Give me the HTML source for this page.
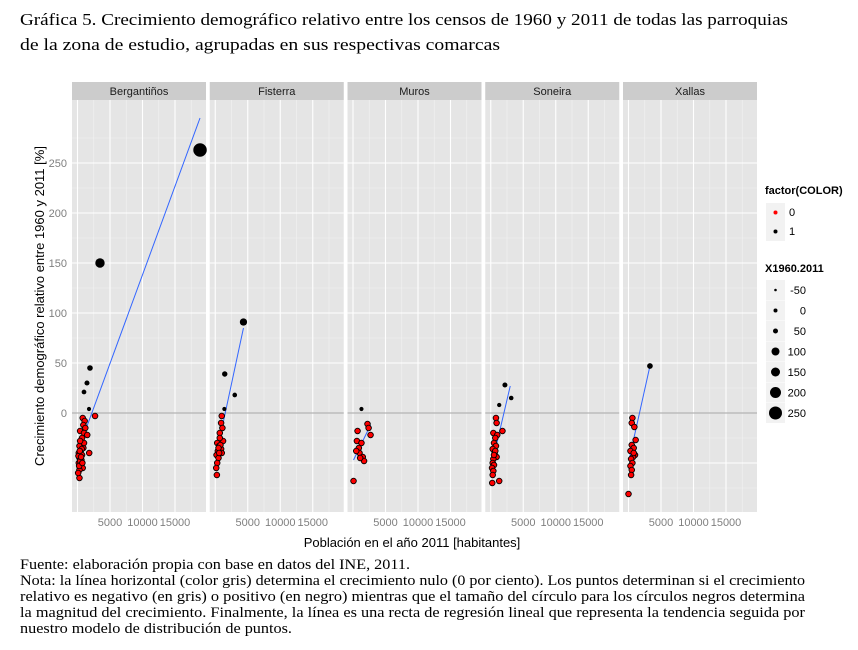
<!DOCTYPE html>
<html><head><meta charset="utf-8">
<style>
body{margin:0;background:#fff;width:858px;height:650px;overflow:hidden}
svg{display:block}
.t{font-family:"Liberation Serif",serif;fill:#000}
.s{font-family:"Liberation Sans",sans-serif}
</style></head><body>
<svg id="c" width="858" height="650">
<text class="t" x="20" y="25" font-size="17" textLength="768" lengthAdjust="spacingAndGlyphs">Gráfica 5. Crecimiento demográfico relativo entre los censos de 1960 y 2011 de todas las parroquias</text>
<text class="t" x="20" y="50" font-size="17" textLength="480" lengthAdjust="spacingAndGlyphs">de la zona de estudio, agrupadas en sus respectivas comarcas</text>
<g id="panels"></g>
<text class="s" x="412" y="547" font-size="13" fill="#000" text-anchor="middle">Población en el año 2011 [habitantes]</text>
<text class="s" transform="translate(44,306) rotate(-90)" font-size="13" fill="#000" text-anchor="middle">Crecimiento demográfico relativo entre 1960 y 2011 [%]</text>
<g id="legend" class="s" font-size="11"></g>
<g class="t" font-size="15" lengthAdjust="spacingAndGlyphs">
<text x="20" y="569" textLength="390" lengthAdjust="spacingAndGlyphs">Fuente: elaboración propia con base en datos del INE, 2011.</text>
<text x="20" y="585" textLength="785" lengthAdjust="spacingAndGlyphs">Nota: la línea horizontal (color gris) determina el crecimiento nulo (0 por ciento). Los puntos determinan si el crecimiento</text>
<text x="20" y="601" textLength="785" lengthAdjust="spacingAndGlyphs">relativo es negativo (en gris) o positivo (en negro) mientras que el tamaño del círculo para los círculos negros determina</text>
<text x="20" y="617" textLength="785" lengthAdjust="spacingAndGlyphs">la magnitud del crecimiento. Finalmente, la línea es una recta de regresión lineal que representa la tendencia seguida por</text>
<text x="20" y="633" textLength="272" lengthAdjust="spacingAndGlyphs">nuestro modelo de distribución de puntos.</text>
</g>
</svg>
<script>
const panelNames=["Bergantiños","Fisterra","Muros","Soneira","Xallas"];
const yTicks=[0,50,100,150,200,250];
const xTicks=[5000,10000,15000];
const sizeLegend=[-50,0,50,100,150,200,250];
// points per panel: [population, growth%]
const pts=[
 [[18850,263],[3460,150],[1920,45],[1460,30],[1000,21],[1770,4],[2700,-3],[300,-65],
  [800,-5],[1100,-8],[900,-12],[1200,-15],[400,-18],[1000,-20],[1500,-22],[700,-25],[600,-30],[300,-33],[900,-35],[500,-38],
  [200,-40],[700,-42],[1800,-40],[300,-45],[600,-47],[200,-50],[500,-52],[800,-55],[300,-57],[100,-60],[400,-48],[1000,-30],[150,-43],[650,-36],
  [400,-28],[250,-53],[550,-44],[750,-50],[350,-38]],
 [[4340,91],[1460,39],[3000,18],[1400,4],[1000,-3],[900,-10],[1100,-15],[700,-20],[1200,-28],[300,-30],[600,-33],[900,-36],
  [400,-38],[1000,-40],[200,-42],[500,-45],[300,-50],[150,-55],[250,-62],[700,-25],[800,-32],[500,-35],[600,-40]],
 [[1300,4],[80,-68],[2230,-11],[2400,-15],[2700,-22],[700,-18],[600,-28],[1300,-30],[900,-35],[1000,-40],[1500,-44],[1700,-48],[500,-38],[1100,-45]],
 [[2180,28],[3150,15],[1300,8],[230,-70],[1300,-68],[800,-5],[900,-10],[1800,-18],[400,-20],[1000,-22],[700,-25],[500,-30],[800,-33],
  [300,-36],[600,-40],[900,-44],[400,-46],[300,-50],[500,-52],[200,-55],[400,-58],[300,-62],[700,-38],[500,-42]],
 [[3300,47],[0,-81],[600,-5],[500,-10],[900,-14],[1100,-27],[500,-32],[800,-35],[300,-38],[1000,-42],[700,-44],[400,-46],[600,-50],[300,-53],[500,-57],[400,-62],[800,-40]]
];
// regression endpoints
const regX0=[850,580,80,330,80];
const regY0=[-24,-29,-47,-47,-47];
const regX1=[18850,4340,2700,3000,3300];
const regY1=[295,85,-12,27,47];

const NS="http://www.w3.org/2000/svg";
function el(t,a,p){const e=document.createElementNS(NS,t);for(const k in a)e.setAttribute(k,a[k]);p.appendChild(e);return e;}
const P0=72,PW=134,STEP=137.75,TOP=100,BOT=512;
function ys(v){return 413-v;}
function xs(i,v){return P0+i*STEP+5.5+v/5000*32.5;}
function rad(v){return Math.max(1.3,2+v*0.018);}
const G=document.getElementById('panels');
panelNames.forEach((nm,i)=>{
 const L=P0+i*STEP;
 const g=el('g',{},G);
 
 
 const st=el('rect',{x:L,y:82,width:PW,height:18,fill:'#cccccc'},g);
 
 
 const tx=el('text',{x:L+PW/2,y:95,'font-size':11,'text-anchor':'middle','font-family':'Liberation Sans,sans-serif',fill:'#1a1a1a'},g);
 tx.textContent=nm;
 
 
 el('rect',{x:L,y:TOP,width:PW,height:BOT-TOP,fill:'#e5e5e5'},g);
 for(let v=-75;v<=275;v+=50) el('line',{x1:L,x2:L+PW,y1:ys(v),y2:ys(v),stroke:'#f2f2f2','stroke-width':0.6},g);
 for(let v=2500;v<=17500;v+=5000) el('line',{x1:xs(i,v),x2:xs(i,v),y1:TOP,y2:BOT,stroke:'#f2f2f2','stroke-width':0.6},g);
 [-50,...yTicks].forEach(v=>el('line',{x1:L,x2:L+PW,y1:ys(v),y2:ys(v),stroke:'#fff','stroke-width':1.1},g));
 [0,...xTicks].forEach(v=>el('line',{x1:xs(i,v),x2:xs(i,v),y1:TOP,y2:BOT,stroke:'#fff','stroke-width':1.1},g));
 el('line',{x1:L,x2:L+PW,y1:ys(0),y2:ys(0),stroke:'#b3b3b3','stroke-width':1.3},g);
 xTicks.forEach(v=>{const t=el('text',{x:xs(i,v),y:526,'font-size':11,'text-anchor':'middle','font-family':'Liberation Sans,sans-serif',fill:'#7f7f7f'},g);t.textContent=v;
  
  });
 const ln=el('line',{x1:xs(i,regX0[i]),y1:ys(regY0[i]),x2:xs(i,regX1[i]),y2:ys(regY1[i]),stroke:'#3366ff','stroke-width':1},g);
 
 
 pts[i].forEach(p=>{
  const pos=p[1]>=0;
  const c=el('circle',{cx:xs(i,p[0]),cy:ys(p[1]),r:pos?rad(p[1]):2.8,fill:pos?'#000':'#ff0000',stroke:'#000','stroke-width':pos?0:0.9},g);
  
  
 });
});
yTicks.forEach(v=>{const t=el('text',{x:67,y:ys(v)+4,'font-size':11,'text-anchor':'end','font-family':'Liberation Sans,sans-serif',fill:'#7f7f7f'},G);t.textContent=v;
 
 });
const LG=document.getElementById('legend');
let h=el('text',{x:765,y:194,'font-weight':'bold',fill:'#000'},LG);h.textContent='factor(COLOR)';


[['0','#ff0000',212],['1','#000',231]].forEach(d=>{
 el('rect',{x:766,y:d[2]-9,width:19,height:19,fill:'#f2f2f2'},LG);
 el('circle',{cx:775.5,cy:d[2]+0.5,r:2,fill:d[1]},LG);
 const t=el('text',{x:789,y:d[2]+4,fill:'#000'},LG);t.textContent=d[0];
 
 
});
h=el('text',{x:765,y:272,'font-weight':'bold',fill:'#000'},LG);h.textContent='X1960.2011';


const radL=[1.3,2,2.5,4,4.5,5.5,6.5];
sizeLegend.forEach((v,k)=>{
 const y=290+k*20.5;
 el('rect',{x:766,y:y-10,width:19,height:20,fill:'#f2f2f2'},LG);
 el('circle',{cx:775.5,cy:y,r:radL[k],fill:'#000'},LG);
 const t=el('text',{x:806,y:y+4,'text-anchor':'end',fill:'#000'},LG);t.textContent=v;
 
 
});
</script>
</body></html>
